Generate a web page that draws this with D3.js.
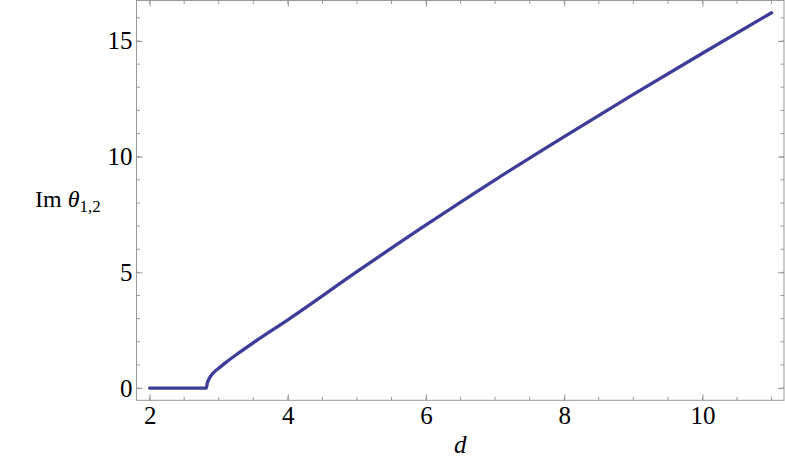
<!DOCTYPE html>
<html>
<head>
<meta charset="utf-8">
<script src="https://cdn.jsdelivr.net/npm/d3@7"></script>
<style>
  body { margin: 0; background: #fff; }
  text { font-family: "Liberation Serif", "DejaVu Serif", serif; }
</style>
</head>
<body>
<div id="chart"></div>
<script>
const WIDTH = 785
const HEIGHT = 460

// curve
const dValues = [2, 2.82, 2.835, 2.86, 2.92, 3.0, 3.1, 3.3, 3.55, 4, 5, 6, 7, 8, 9, 10, 11]
const imTheta = [0, 0, 0.22, 0.4, 0.65, 0.86, 1.1, 1.54, 2.06, 2.95, 5.03, 7.05, 9.0, 10.87, 12.69, 14.47, 16.22]

const xMajor = [2, 4, 6, 8, 10]
const yMajor = [0, 5, 10, 15]
const xMinor = d3.range(2, 11.01, 0.5)
const yMinor = d3.range(0, 16.01, 1)

const LINE_COLOR = '#3d3d99'
const FRAME_COLOR = '#999'
const FONT = '"Liberation Serif", "DejaVu Serif", serif'

const x = d3.scaleLinear().domain([1.81, 11.18]).range([136.5, 784])
const y = d3.scaleLinear().domain([-0.53, 16.75]).range([400.3, 0.5])

const svg = d3.select('#chart').append('svg')
  .attr('width', WIDTH)
  .attr('height', HEIGHT)

const x0 = x.range()[0], x1 = x.range()[1]
const y0 = y.range()[0], y1 = y.range()[1]

// minor ticks on all four sides
const minorG = svg.append('g').attr('stroke', FRAME_COLOR).attr('stroke-width', 1)
minorG.selectAll('.mx').data(xMinor).join('line')
  .attr('x1', d => x(d)).attr('x2', d => x(d))
  .attr('y1', y0).attr('y2', y0 - 3.5)
minorG.selectAll('.mxt').data(xMinor).join('line')
  .attr('x1', d => x(d)).attr('x2', d => x(d))
  .attr('y1', y1).attr('y2', y1 + 3.5)
minorG.selectAll('.my').data(yMinor).join('line')
  .attr('y1', d => y(d)).attr('y2', d => y(d))
  .attr('x1', x0).attr('x2', x0 + 3.5)
minorG.selectAll('.myr').data(yMinor).join('line')
  .attr('y1', d => y(d)).attr('y2', d => y(d))
  .attr('x1', x1).attr('x2', x1 - 3.5)

// major ticks + labels
const bottomAxis = d3.axisBottom(x).tickValues(xMajor).tickSize(-6).tickPadding(6).tickFormat(d3.format('d'))
const leftAxis = d3.axisLeft(y).tickValues(yMajor).tickSize(-6).tickPadding(4).tickFormat(d3.format('d'))
const topAxis = d3.axisTop(x).tickValues(xMajor).tickSize(-6).tickFormat('')
const rightAxis = d3.axisRight(y).tickValues(yMajor).tickSize(-6).tickFormat('')

const styleAxis = g => {
  g.attr('font-family', FONT).attr('font-size', 25)
  g.select('.domain').remove()
  g.selectAll('.tick line').attr('stroke', FRAME_COLOR)
  g.selectAll('.tick text').attr('fill', '#000')
}

svg.append('g').attr('transform', `translate(0,${y0})`).call(bottomAxis).call(styleAxis)
svg.append('g').attr('transform', `translate(${x0},0)`).call(leftAxis).call(styleAxis)
svg.append('g').attr('transform', `translate(0,${y1})`).call(topAxis).call(styleAxis)
svg.append('g').attr('transform', `translate(${x1},0)`).call(rightAxis).call(styleAxis)

// frame
svg.append('rect')
  .attr('x', x0).attr('y', y1)
  .attr('width', x1 - x0).attr('height', y0 - y1)
  .attr('fill', 'none').attr('stroke', FRAME_COLOR).attr('stroke-width', 1)

// the curve
const line = d3.line()
  .x((d, i) => x(dValues[i]))
  .y(d => y(d))
  .curve(d3.curveMonotoneX)

svg.append('path')
  .datum(imTheta)
  .attr('d', line)
  .attr('fill', 'none')
  .attr('stroke', LINE_COLOR)
  .attr('stroke-width', 3.3)
  .attr('stroke-linecap', 'round')
  .attr('stroke-linejoin', 'round')

// frame labels
svg.append('text')
  .attr('x', (x0 + x1) / 2).attr('y', 453)
  .attr('text-anchor', 'middle')
  .style('font-size', '25px').style('font-style', 'italic')
  .text('d')

const yl = svg.append('text')
  .attr('x', 35).attr('y', 207)
  .style('font-size', '24px')
yl.append('tspan').text('Im ')
yl.append('tspan').style('font-style', 'italic').text('θ')
yl.append('tspan').attr('dy', 5).style('font-size', '17px').text('1,2')
</script>
</body>
</html>
